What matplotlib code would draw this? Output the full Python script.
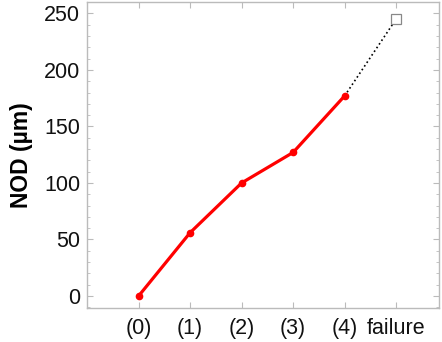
import matplotlib
matplotlib.use("Agg")
import matplotlib.pyplot as plt
from matplotlib.ticker import MultipleLocator

categories = ["(0)", "(1)", "(2)", "(3)", "(4)", "failure"]
nod_values = [0, 56, 100, 127, 177]
failure_value = 245

plt.rcParams['font.family'] = ['Liberation Sans', 'DejaVu Sans']

fig = plt.figure(figsize=(4.42, 3.42), dpi=100)
ax = fig.add_axes([0.197, 0.0994, 0.796, 0.8946])

xs = list(range(len(nod_values)))
ax.plot(xs, nod_values, color='#ff0000', lw=2.3, marker='o', ms=4.5, zorder=3)
ax.plot([xs[-1], len(categories) - 1], [nod_values[-1], failure_value],
        color='black', ls=':', lw=1.2, zorder=2)
ax.plot([len(categories) - 1], [failure_value], marker='s', ms=6.5,
        mfc='white', mec='#888888', mew=0.9, ls='none', zorder=4)

ax.set_xlim(-1, 5.83)
ax.set_ylim(-10.6, 260)
ax.set_xticks(range(len(categories)))
ax.set_xticklabels(categories)
ax.yaxis.set_major_locator(MultipleLocator(50))
ax.yaxis.set_minor_locator(MultipleLocator(10))

for s in ax.spines.values():
    s.set_color('#bbbbbb')
    s.set_linewidth(1.0)
ax.tick_params(which='both', direction='in', colors='#bbbbbb', labelcolor='#111111',
               top=True, right=True, labelsize=15.5)
ax.tick_params(which='major', length=4)
ax.tick_params(which='minor', length=2)
ax.tick_params(axis='y', pad=5)
ax.tick_params(axis='x', pad=7)
ax.tick_params(axis='x', which='minor', bottom=False, top=False)
ax.set_ylabel('NOD (µm)', fontsize=16.5, fontweight='bold', labelpad=8)

fig.savefig('out.png', dpi=100)
